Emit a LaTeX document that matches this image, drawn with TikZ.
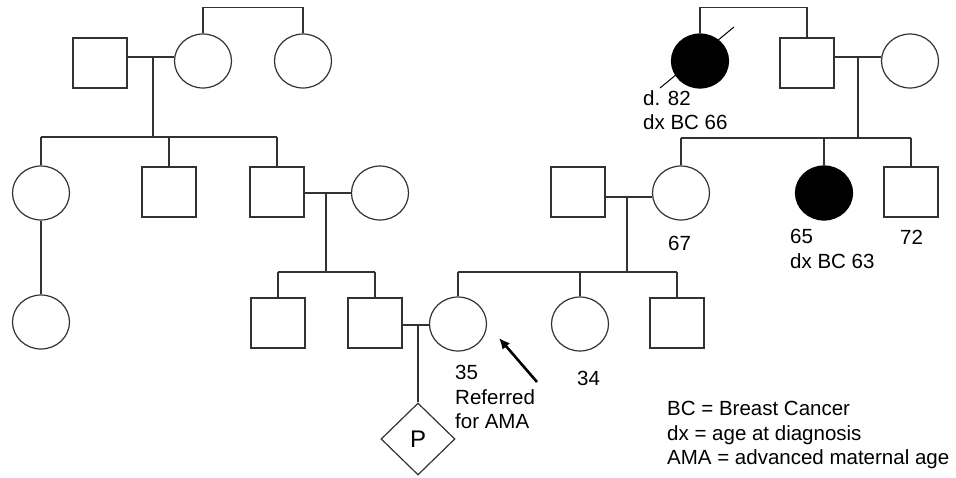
\documentclass[tikz,border=0pt]{standalone}
\usepackage{fontspec}
\setmainfont{Liberation Sans}
\usetikzlibrary{shapes.geometric, arrows.meta}
\definecolor{lineColor}{RGB}{50,50,50}

\begin{document}
\begin{tikzpicture}[x=1pt, y=-1pt,
    male/.style={draw=lineColor, line width=1.2pt, rectangle, minimum width=54pt, minimum height=50pt, inner sep=0pt},
    female/.style={draw=lineColor, line width=1.2pt, ellipse, minimum width=57pt, minimum height=54pt, inner sep=0pt},
    affected/.style={fill=black, draw=black},
    pregnancy/.style={draw=lineColor, line width=1.2pt, diamond, minimum width=74pt, minimum height=72pt, inner sep=0pt, font=\fontsize{24}{28}\selectfont},
    link/.style={draw=lineColor, line width=1.2pt},
    note/.style={anchor=north west, align=left, inner sep=0pt, font=\fontsize{20.5}{24.5}\selectfont}]

    \useasboundingbox (0,0) rectangle (956,477);

    % 1. GENERACION I (abuelos)
    \node[male] (ptGrandfather) at (100,63) {};
    \node[female] (ptGrandmother) at (203,61) {};
    \node[female] (ptGreatAunt) at (303,61) {};
    \node[female, affected] (pbGreatAunt) at (700,61) {};
    \node[male] (pbGrandfather) at (807,63) {};
    \node[female] (pbGrandmother) at (910,61) {};

    % 2. GENERACION II (padres, tios)
    \node[female] (ptAunt) at (41,193) {};
    \node[male] (ptUncle) at (169,192) {};
    \node[male] (ptFather) at (277,192) {};
    \node[female] (ptMother) at (380,193) {};
    \node[male] (pbFather) at (578,192) {};
    \node[female] (pbMother) at (681,193) {};
    \node[female, affected] (pbAunt) at (824,193) {};
    \node[male] (pbUncle) at (911,192) {};

    % 3. GENERACION III (probando, pareja, hermanos)
    \node[female] (ptCousin) at (41,322) {};
    \node[male] (ptBrother) at (278,323) {};
    \node[male] (partner) at (375,323) {};
    \node[female] (proband) at (458,324) {};
    \node[female] (pbSister) at (580,324) {};
    \node[male] (pbBrother) at (677,323) {};

    % 4. EMBARAZO
    \node[pregnancy] (fetus) at (418,439) {P};

    % Puntos de union
    \coordinate (ptCouple1) at (153,57);
    \coordinate (ptSibs1) at (153,137);
    \coordinate (ptCouple2) at (326,193);
    \coordinate (ptSibs2) at (326,272);
    \coordinate (mateCouple) at (418,325);
    \coordinate (pbCouple2) at (627,197);
    \coordinate (pbSibs2) at (627,272);
    \coordinate (pbCouple1) at (858,57);
    \coordinate (pbSibs1) at (858,138);

    % 5. LINEAS - lado de la pareja
    \draw[link] (ptGrandmother.north) -- ++(0,-26) -| (ptGreatAunt.north);
    \draw[link] (ptGrandfather.east |- ptCouple1) -- (ptGrandmother.west |- ptCouple1);
    \draw[link] (ptCouple1) -- (ptSibs1);
    \draw[link] (ptAunt.north |- ptSibs1) -- (ptFather.north |- ptSibs1);
    \foreach \kid in {ptAunt, ptUncle, ptFather} { \draw[link] (\kid.north) -- (\kid.north |- ptSibs1); }
    \draw[link] (ptAunt.south) -- (ptCousin.north);
    \draw[link] (ptFather.east |- ptCouple2) -- (ptMother.west |- ptCouple2);
    \draw[link] (ptCouple2) -- (ptSibs2);
    \draw[link] (ptBrother.north |- ptSibs2) -- (partner.north |- ptSibs2);
    \foreach \kid in {ptBrother, partner} { \draw[link] (\kid.north) -- (\kid.north |- ptSibs2); }

    % Pareja + probando -> embarazo
    \draw[link] (partner.east |- mateCouple) -- (proband.west |- mateCouple);
    \draw[link] (mateCouple) -- (fetus.north);

    % 6. LINEAS - lado del probando
    \draw[link] (pbGreatAunt.north) -- ++(0,-26) -| (pbGrandfather.north);
    \draw[link] (pbGrandfather.east |- pbCouple1) -- (pbGrandmother.west |- pbCouple1);
    \draw[link] (pbCouple1) -- (pbSibs1);
    \draw[link] (pbMother.north |- pbSibs1) -- (pbUncle.north |- pbSibs1);
    \foreach \kid in {pbMother, pbAunt, pbUncle} { \draw[link] (\kid.north) -- (\kid.north |- pbSibs1); }
    \draw[link] (pbFather.east |- pbCouple2) -- (pbMother.west |- pbCouple2);
    \draw[link] (pbCouple2) -- (pbSibs2);
    \draw[link] (proband.north |- pbSibs2) -- (pbBrother.north |- pbSibs2);
    \foreach \kid in {proband, pbSister, pbBrother} { \draw[link] (\kid.north) -- (\kid.north |- pbSibs2); }

    % Fallecida
    \draw[black, line width=1pt] ([shift={(-40,27)}]pbGreatAunt.center) -- ([shift={(34,-34)}]pbGreatAunt.center);

    % 7. FLECHA AL PROBANDO
    \coordinate (arrTail) at (537,382);
    \coordinate (arrTip) at (499,338);
    \draw[black, line width=2.6pt, -{Latex[length=11pt,width=10pt]}] (arrTail) -- (arrTip);

    % 8. TEXTOS
    \node[note] (lblGreatAunt) at (643,90) {d. 82\\dx BC 66};
    \node[note] (lblMother) at (668,236) {67};
    \node[note] (lblAunt) at (790,229) {65\\dx BC 63};
    \node[note] (lblUncle) at (900,230) {72};
    \node[note] (lblProband) at (455,365) {35\\Referred\\for AMA};
    \node[note] (lblSister) at (577,371) {34};
    \node[note] (legend) at (667,401) {BC = Breast Cancer\\dx = age at diagnosis\\AMA = advanced maternal age};

\end{tikzpicture}
\end{document}
